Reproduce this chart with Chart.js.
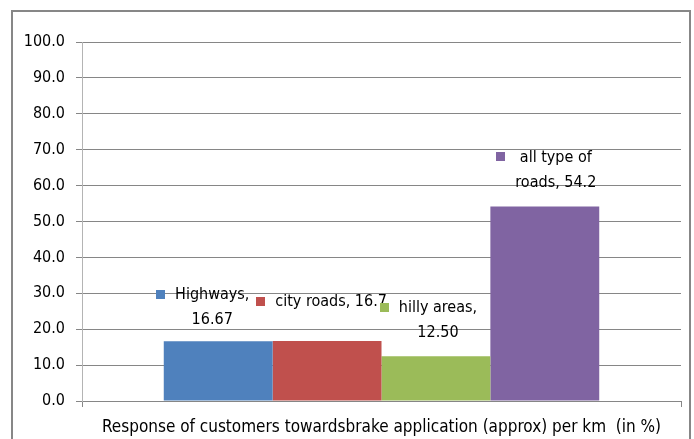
<!DOCTYPE html>
<html>
<head>
<meta charset="utf-8">
<script src="https://cdn.jsdelivr.net/npm/chart.js@4"></script>
<style>
  body { margin: 0; background: #fff; }
  #wrap { position: relative; width: 694px; height: 439px; overflow: hidden; }
  #frame { position: absolute; left: 11px; top: 10px; width: 680px; height: 460px; border: 2px solid #878787; box-sizing: border-box; }
  #chart { position: absolute; left: 0; top: 0; }
</style>
</head>
<body>
<div id="wrap">
  <div id="frame"></div>
  <canvas id="chart" width="694" height="439"></canvas>
</div>
<script>
const categoryName = 'Response of customers towardsbrake application (approx) per km  (in %)';
const seriesNames = ['Highways', 'city roads', 'hilly areas', 'all type of roads'];
const seriesValues = [16.67, 16.7, 12.5, 54.2];
const valueLabels = ['16.67', '16.7', '12.50', '54.2'];
const seriesColors = ['#4F81BD', '#C0504D', '#9BBB59', '#8064A2'];
const yMin = 0;
const yMax = 100;
const yStep = 10;

const fontFamily = "'Liberation Sans Narrow', 'DejaVu Sans Condensed', Arial, sans-serif";

// where each data label sits, relative to the top of its bar
const labelPlacement = [
    { dx: -6, dy: -46, wrap: 80 },
    { dx: 4, dy: -39, wrap: 200 },
    { dx: 2, dy: -48, wrap: 90 },
    { dx: 11, dy: -49, wrap: 85 }
];

function wrapText(ctx, text, maxWidth) {
    const words = text.split(' ');
    const lines = [];
    let line = '';
    words.forEach(w => {
        const test = line ? line + ' ' + w : w;
        if (line && ctx.measureText(test).width > maxWidth) {
            lines.push(line);
            line = w;
        } else {
            line = test;
        }
    });
    if (line) lines.push(line);
    return lines;
}

const barLabels = {
    id: 'barLabels',
    afterDatasetsDraw(chart) {
        const ctx = chart.ctx;
        ctx.save();
        ctx.font = '16px ' + fontFamily;
        ctx.fillStyle = '#000';
        ctx.textBaseline = 'middle';
        ctx.textAlign = 'center';
        chart.data.datasets.forEach((ds, i) => {
            const bar = chart.getDatasetMeta(i).data[0];
            const p = labelPlacement[i];
            const text = seriesNames[i] + ', ' + valueLabels[i];
            const lines = wrapText(ctx, text, p.wrap);
            const cx = bar.x + p.dx;
            const y0 = bar.y + p.dy;
            const blockW = Math.max(...lines.map(l => ctx.measureText(l).width));
            const left = cx - blockW / 2;
            // legend key
            ctx.fillStyle = seriesColors[i];
            ctx.fillRect(Math.round(left - 19), Math.round(y0 - 5), 9, 9);
            ctx.fillStyle = '#000';
            lines.forEach((l, k) => {
                ctx.fillText(l, cx, y0 + k * 25);
            });
        });
        ctx.restore();
    }
};

const datasets = seriesNames.map((name, i) => ({
    label: name,
    data: [seriesValues[i]],
    backgroundColor: seriesColors[i],
    borderWidth: 0,
    barPercentage: 1,
    categoryPercentage: 0.727
}));

new Chart(document.getElementById('chart'), {
    type: 'bar',
    data: {
        labels: [categoryName],
        datasets: datasets
    },
    options: {
        responsive: false,
        animation: false,
        layout: { padding: { top: 42, right: 13, left: 0, bottom: 0 } },
        plugins: {
            legend: { display: false },
            tooltip: { enabled: false }
        },
        scales: {
            x: {
                grid: { drawOnChartArea: false, drawTicks: true, tickLength: 6, color: '#868686', offset: true },
                border: { color: '#868686' },
                ticks: { color: '#000', font: { family: fontFamily, size: 17 }, padding: 10, maxRotation: 0, autoSkip: false },
                afterFit(scale) { scale.height = 38; }
            },
            y: {
                min: yMin,
                max: yMax,
                grid: { color: '#868686', tickLength: 6 },
                border: { color: '#b4b4b4' },
                ticks: {
                    stepSize: yStep,
                    color: '#000',
                    font: { family: fontFamily, size: 16 },
                    padding: 11,
                    callback: v => v.toFixed(1)
                },
                afterFit(scale) { scale.width = 82; }
            }
        }
    },
    plugins: [barLabels]
});
</script>
</body>
</html>
